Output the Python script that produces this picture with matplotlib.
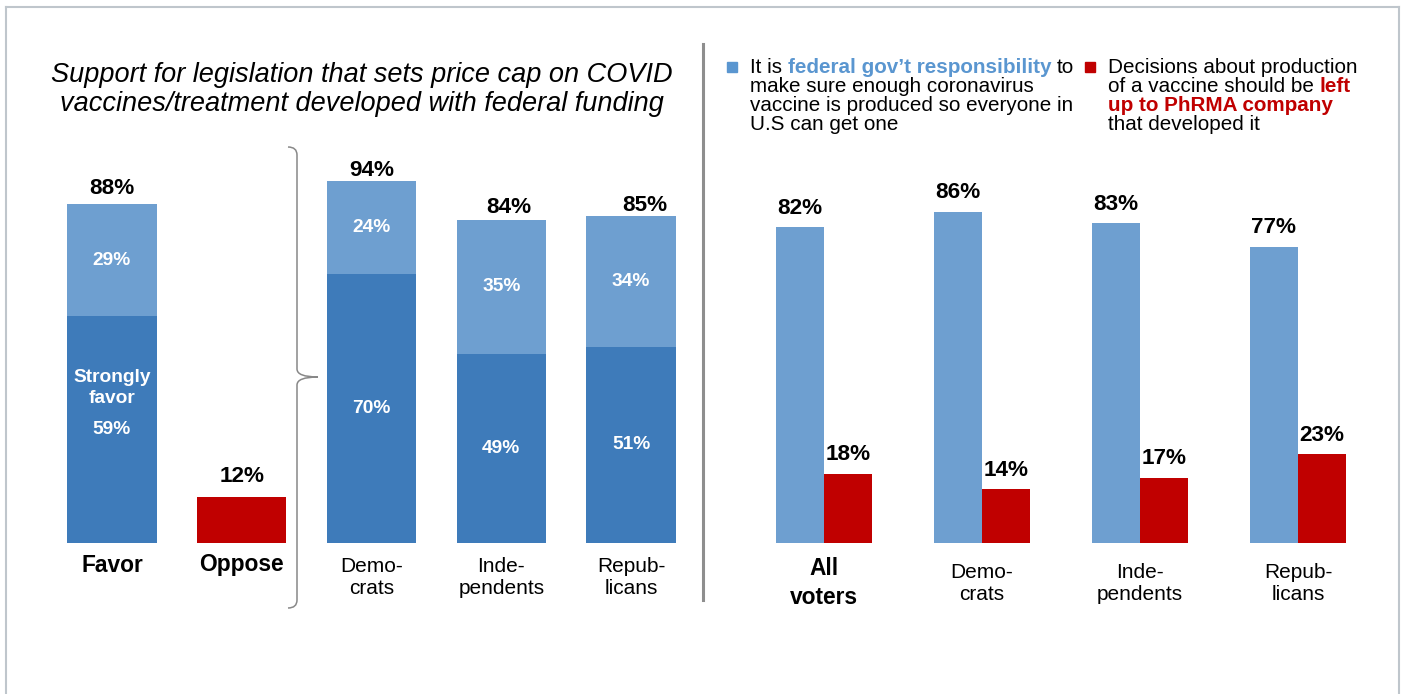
#!/usr/bin/env python3

import matplotlib
matplotlib.use("Agg")
import matplotlib.pyplot as plt
from matplotlib.path import Path
from matplotlib.patches import PathPatch
from matplotlib.lines import Line2D

plt.rcParams['font.family'] = ['Liberation Sans', 'DejaVu Sans']

W, H = 1403, 694

#- Left panel: price cap support
left_labels = ["Favor", "Oppose", "Demo-\ncrats", "Inde-\npendents", "Repub-\nlicans"]
strongly = [59, 70, 49, 51]        # Favor, Democrats, Independents, Republicans
somewhat = [29, 24, 35, 34]
favor_total = [88, 94, 84, 85]
oppose = 12

#- Right panel: who is responsible
right_labels = ["All\nvoters", "Demo-\ncrats", "Inde-\npendents", "Repub-\nlicans"]
fed_resp = [82, 86, 83, 77]
phrma = [18, 14, 17, 23]

DARK = '#3E7BBA'
LIGHT = '#6E9FD0'
RED = '#C00000'
LEGBLUE = '#5A96D0'


def fx(x):
    return x / W


def fy(y):
    return 1 - y / H


fig = plt.figure(figsize=(W / 100, H / 100), dpi=100)

#- frame and divider
for xs, ys in [([6, 6], [7, 700]), ([6, 1399], [7, 7]), ([1399, 1399], [7, 700])]:
    fig.add_artist(Line2D([fx(v) for v in xs], [fy(v) for v in ys], color='#BFC6CC', lw=1.5))
fig.add_artist(Line2D([fx(703), fx(703)], [fy(44), fy(600)], color='#8E8E8E', lw=2.2))

#- left axes
ax1 = fig.add_axes([fx(47), fy(543), (696 - 47) / W, 385 / H])
ax1.set_xlim(-0.5, 4.5)
ax1.set_ylim(0, 100)
ax1.axis('off')

pos_fav = [0, 2, 3, 4]
bw = 0.69
ax1.bar(pos_fav, strongly, width=bw, color=DARK)
ax1.bar(pos_fav, somewhat, width=bw, bottom=strongly, color=LIGHT)
ax1.bar([1], [oppose], width=bw, color=RED)

# totals above bars (small per-bar nudges as in the original)
tot_pos = [0, 1, 2, 3, 4]
tot_val = [favor_total[0], oppose] + favor_total[1:]
dy = [16, 20, 11, 12, 10]
dx = [0, 0, 0, 8, 14]
for p, v, oy, ox in zip(tot_pos, tot_val, dy, dx):
    ax1.annotate(f"{v}%", (p, v), xytext=(ox, oy), textcoords='offset pixels',
                 ha='center', va='center', fontsize=16.2, fontweight='bold')

for i, p in enumerate(pos_fav):
    ax1.text(p, strongly[i] / 2, f"{strongly[i]}%", ha='center', va='center',
             color='white', fontsize=13.8, fontweight='bold')
    ax1.text(p, strongly[i] + somewhat[i] / 2, f"{somewhat[i]}%", ha='center', va='center',
             color='white', fontsize=13.8, fontweight='bold')
ax1.annotate("Strongly\nfavor", (0, strongly[0] / 2), xytext=(0, 41), textcoords='offset pixels',
             ha='center', va='center', color='white', fontsize=13.8, fontweight='bold',
             linespacing=1.3)

for i, lab in enumerate(left_labels):
    bold = i < 2
    ax1.annotate(lab, (i, 0), xytext=(0, -22 if bold else -34), textcoords='offset pixels',
                 ha='center', va='center', fontsize=16.4 if bold else 15,
                 fontweight='bold' if bold else 'normal', linespacing=1.2)

#- right axes
ax2 = fig.add_axes([fx(745), fy(543), (1377 - 745) / W, 385 / H])
ax2.set_xlim(-0.5, 3.5)
ax2.set_ylim(0, 100)
ax2.axis('off')

rw = 0.304
xr = list(range(len(fed_resp)))
ax2.bar([x - rw / 2 for x in xr], fed_resp, width=rw, color=LIGHT)
ax2.bar([x + rw / 2 for x in xr], phrma, width=rw, color=RED)
for x, a, b in zip(xr, fed_resp, phrma):
    ax2.annotate(f"{a}%", (x - rw / 2, a), xytext=(0, 19), textcoords='offset pixels',
                 ha='center', va='center', fontsize=16.2, fontweight='bold')
    ax2.annotate(f"{b}%", (x + rw / 2, b), xytext=(0, 19), textcoords='offset pixels',
                 ha='center', va='center', fontsize=16.2, fontweight='bold')
for i, lab in enumerate(right_labels):
    bold = i == 0
    ax2.annotate(lab, (i, 0), xytext=(0, -40), textcoords='offset pixels',
                 ha='center', va='center', fontsize=16.4 if bold else 15,
                 fontweight='bold' if bold else 'normal',
                 linespacing=1.28 if bold else 1.2)

#- title
fig.text(fx(362), fy(75), "Support for legislation that sets price cap on COVID",
         ha='center', va='center', fontsize=19.5, style='italic')
fig.text(fx(362), fy(104), "vaccines/treatment developed with federal funding",
         ha='center', va='center', fontsize=19.5, style='italic')

#- brace
bx, tipx, hx = 297, 318, 288
top, mid, bot = 147, 377, 608
verts = [(hx, top), (bx, top), (bx, top + 8),
         (bx, mid - 8), (bx, mid), (tipx, mid),
         (bx, mid), (bx, mid + 8),
         (bx, bot - 8), (bx, bot), (hx, bot)]
codes = [Path.MOVETO, Path.CURVE3, Path.CURVE3,
         Path.LINETO, Path.CURVE3, Path.CURVE3,
         Path.CURVE3, Path.CURVE3,
         Path.LINETO, Path.CURVE3, Path.CURVE3]
brace = Path([(fx(a), fy(b)) for a, b in verts], codes)
fig.add_artist(PathPatch(brace, fill=False, edgecolor='#888888', lw=1.1,
                         transform=fig.transFigure))

#- legend with mixed coloured text
renderer = fig.canvas.get_renderer()
LEGSIZE = 14.9


def space_width(size, weight):
    a = fig.text(0, 0, "x x", fontsize=size, fontweight=weight)
    b = fig.text(0, 0, "xx", fontsize=size, fontweight=weight)
    w = a.get_window_extent(renderer).width - b.get_window_extent(renderer).width
    a.remove()
    b.remove()
    return w


sp = space_width(LEGSIZE, 'normal')


def rich_line(x, y, parts):
    for s, color, weight in parts:
        t = fig.text(fx(x), fy(y), s, color=color, fontweight=weight, fontsize=LEGSIZE,
                     ha='left', va='baseline')
        x = t.get_window_extent(renderer).x1 + sp


k = 'black'
fig.add_artist(plt.Rectangle((fx(727), fy(72)), 10 / W, 10 / H, color=LEGBLUE,
                             transform=fig.transFigure))
fig.add_artist(plt.Rectangle((fx(1085), fy(72)), 10 / W, 10 / H, color=RED,
                             transform=fig.transFigure))

blue_lines = [
    [("It is", k, 'normal'), ("federal gov\u2019t responsibility", LEGBLUE, 'bold'), ("to", k, 'normal')],
    [("make sure enough coronavirus", k, 'normal')],
    [("vaccine is produced so everyone in", k, 'normal')],
    [("U.S can get one", k, 'normal')],
]
red_lines = [
    [("Decisions about production", k, 'normal')],
    [("of a vaccine should be", k, 'normal'), ("left", RED, 'bold')],
    [("up to PhRMA company", RED, 'bold')],
    [("that developed it", k, 'normal')],
]
for j, (bl, rl) in enumerate(zip(blue_lines, red_lines)):
    rich_line(750, 73 + 19 * j, bl)
    rich_line(1108, 73 + 19 * j, rl)

fig.savefig("out.png", dpi=100)
